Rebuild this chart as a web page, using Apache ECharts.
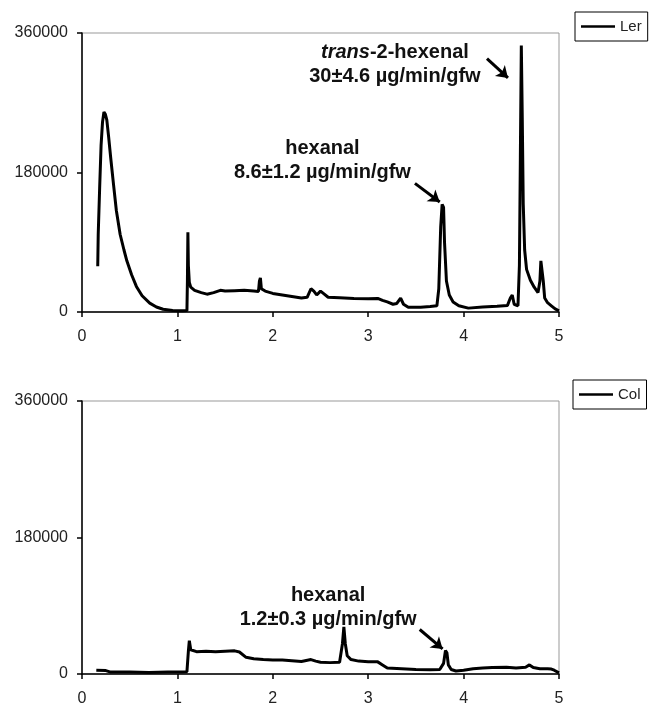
<!DOCTYPE html>
<html>
<head>
<meta charset="utf-8">
<script src="https://cdn.jsdelivr.net/npm/echarts@6/dist/echarts.min.js"></script>
<style>
  html, body { margin: 0; padding: 0; background: #fff; }
  #chart { width: 650px; height: 707px; }
</style>
</head>
<body>
<div id="chart"></div>
<script>
// retention time (min) and signal
const lerTime = [0.165, 0.17, 0.185, 0.2, 0.215, 0.23, 0.245, 0.26, 0.28, 0.3, 0.33, 0.36, 0.4, 0.44, 0.47, 0.52, 0.57, 0.63, 0.71, 0.78, 0.85, 0.95, 1.05, 1.1,
  1.105, 1.11, 1.115, 1.125, 1.14, 1.18, 1.25, 1.31, 1.38, 1.45, 1.5, 1.6, 1.7, 1.8, 1.85, 1.86, 1.87, 1.88, 1.92, 2.0, 2.1, 2.2, 2.3, 2.36, 2.4, 2.43, 2.46, 2.5,
  2.53, 2.58, 2.7, 2.85, 3.0, 3.1, 3.15, 3.2, 3.26, 3.3, 3.34, 3.37, 3.42, 3.55, 3.65, 3.72, 3.74, 3.76, 3.775, 3.79, 3.8, 3.82, 3.85, 3.89, 3.95, 4.05,
  4.2, 4.35, 4.46, 4.49, 4.51, 4.53, 4.57, 4.585, 4.595, 4.605, 4.615, 4.625, 4.64, 4.66, 4.7, 4.74, 4.78, 4.8, 4.81, 4.825, 4.835, 4.85, 4.88, 4.92, 4.96, 5.0];
const lerSignal = [59000, 100000, 160000, 215000, 245000, 258000, 255000, 248000, 225000, 200000, 165000, 131000, 100000, 80000, 66000, 48000, 33000, 21000, 11500, 6500, 3500, 2000, 1500, 1800,
  40000, 103000, 60000, 38000, 32000, 28000, 25000, 23000, 25000, 28000, 27000, 27500, 28000, 27000, 26500, 40000, 44000, 30000, 27000, 24000, 22000, 20000, 18000, 19000, 30000, 27000, 22000, 27000,
  24000, 19000, 18500, 17500, 17000, 17500, 15000, 13000, 10000, 11000, 18000, 10000, 6000, 6000, 7000, 8000, 30000, 110000, 139000, 135000, 90000, 40000, 22000, 13000, 8000, 5000,
  6500, 7500, 8500, 18000, 22000, 10000, 8000, 60000, 200000, 344000, 250000, 140000, 80000, 55000, 41000, 32000, 25000, 40000, 66000, 68000, 40000, 18000, 12000, 8000, 4000, 1500];

const colTime = [0.15, 0.25, 0.3, 0.5, 0.7, 0.9, 1.05, 1.1, 1.115, 1.125, 1.14, 1.2, 1.3, 1.4, 1.5, 1.6, 1.65, 1.72, 1.8, 1.9, 2.0, 2.1, 2.2, 2.3, 2.4, 2.45,
  2.5, 2.6, 2.7, 2.73, 2.745, 2.76, 2.78, 2.82, 2.9, 3.0, 3.1, 3.15, 3.2, 3.35, 3.5, 3.65, 3.75, 3.79, 3.81, 3.825, 3.84, 3.87, 3.92, 4.0, 4.1, 4.2, 4.3,
  4.45, 4.55, 4.65, 4.69, 4.73, 4.8, 4.88, 4.92, 4.95, 5.0];
const colSignal = [5000, 4500, 2500, 2500, 2000, 2500, 2500, 3000, 30000, 44000, 32000, 29500, 30000, 29500, 30000, 30500, 29000, 22000, 20000, 19000, 18500, 18500, 17500, 16500, 19000, 17000,
  15500, 15000, 15500, 40000, 62000, 40000, 24000, 19000, 17000, 16000, 16000, 12000, 8000, 7000, 6000, 5500, 6000, 14000, 31000, 28000, 12000, 6000, 4000, 5000, 7000, 8000, 8500,
  9000, 8000, 9000, 12000, 8500, 7000, 7000, 6500, 5000, 1500];

const xTicks = [0, 5, 1];          // min, max, interval
const yTicks = [0, 360000, 180000];

// annotations: [x, y] of label centre, arrow start, arrow end (data units)
const lerHexanal = { at: [2.52, 196000], from: [3.49, 166000], to: [3.75, 142000] };
const lerHexenal = { at: [3.28, 320000], from: [4.245, 327000], to: [4.465, 302000] };
const colHexanal = { at: [2.58, 87400], from: [3.54, 58700], to: [3.78, 33000] };

const zip = (xs, ys) => xs.map((x, i) => [x, ys[i]]);

const FONT = 'Liberation Sans, Arial, sans-serif';
const axisText = { color: '#222', fontSize: 16, fontFamily: FONT, formatter: v => String(v) };
const boldRich = {
  b: { fontWeight: 'bold', fontSize: 20, color: '#111', fontFamily: FONT, lineHeight: 24 },
  i: { fontWeight: 'bold', fontStyle: 'italic', fontSize: 20, color: '#111', fontFamily: FONT, lineHeight: 24 }
};

function xAxis(gridIndex) {
  return {
    type: 'value', gridIndex, min: xTicks[0], max: xTicks[1], interval: xTicks[2],
    axisLine: { show: true, lineStyle: { color: '#000', width: 1.5 } },
    axisTick: { show: true, length: 5, lineStyle: { color: '#000', width: 1.5 } },
    axisLabel: Object.assign({ margin: 17 }, axisText),
    splitLine: { show: false }
  };
}
function yAxis(gridIndex) {
  return {
    type: 'value', gridIndex, min: yTicks[0], max: yTicks[1], interval: yTicks[2],
    axisLine: { show: true, lineStyle: { color: '#000', width: 1.5 } },
    axisTick: { show: true, length: 5, lineStyle: { color: '#000', width: 1.5 } },
    axisLabel: Object.assign({ margin: 14 }, axisText),
    splitLine: { show: false }
  };
}

function markers(anns) {
  return {
    markPoint: {
      silent: true,
      symbol: 'circle', symbolSize: 1,
      itemStyle: { color: 'rgba(0,0,0,0)' },
      label: { show: true, position: 'inside', align: 'center', verticalAlign: 'middle', rich: boldRich },
      data: anns.map(a => ({ coord: a.at, label: { formatter: a.text } }))
    },
    markLine: {
      silent: true,
      symbol: ['none', 'arrow'], symbolSize: 11,
      lineStyle: { color: '#000', width: 3, type: 'solid' },
      label: { show: false },
      data: anns.map(a => [{ coord: a.from }, { coord: a.to }])
    }
  };
}

function trace(name, idx, data, notes) {
  return Object.assign({
    name, type: 'line', xAxisIndex: idx, yAxisIndex: idx, data,
    symbol: 'none', smooth: false,
    lineStyle: { color: '#000', width: 3 },
    itemStyle: { color: '#000' }
  }, notes);
}

function legend(name, left, top) {
  return {
    data: [name], left, top, orient: 'horizontal',
    icon: 'rect', itemWidth: 34, itemHeight: 2.5,
    itemStyle: { color: '#000' },
    borderColor: '#000', borderWidth: 1, padding: [6, 6, 6, 6],
    textStyle: { color: '#222', fontSize: 15, fontFamily: FONT, lineHeight: 17 }
  };
}

const chart = echarts.init(document.getElementById('chart'), null, { renderer: 'canvas' });
const grid = { left: 82, right: 91, show: true, borderColor: '#999', borderWidth: 1, backgroundColor: '#fff' };

chart.setOption({
  animation: false,
  backgroundColor: '#fff',
  grid: [
    Object.assign({ top: 33, height: 279 }, grid),
    Object.assign({ top: 401, height: 276 }, grid)
  ],
  xAxis: [xAxis(0), xAxis(1)],
  yAxis: [yAxis(0), yAxis(1)],
  legend: [legend('Ler', 575, 12), legend('Col', 573, 380)],
  series: [
    trace('Ler', 0, zip(lerTime, lerSignal), markers([
      Object.assign({ text: '{b|hexanal}\n{b|8.6\u00b11.2 \u00b5g/min/gfw}' }, lerHexanal),
      Object.assign({ text: '{i|trans}{b|-2-hexenal}\n{b|30\u00b14.6 \u00b5g/min/gfw}' }, lerHexenal)
    ])),
    trace('Col', 1, zip(colTime, colSignal), markers([
      Object.assign({ text: '{b|hexanal}\n{b|1.2\u00b10.3 \u00b5g/min/gfw}' }, colHexanal)
    ]))
  ]
});
</script>
</body>
</html>
